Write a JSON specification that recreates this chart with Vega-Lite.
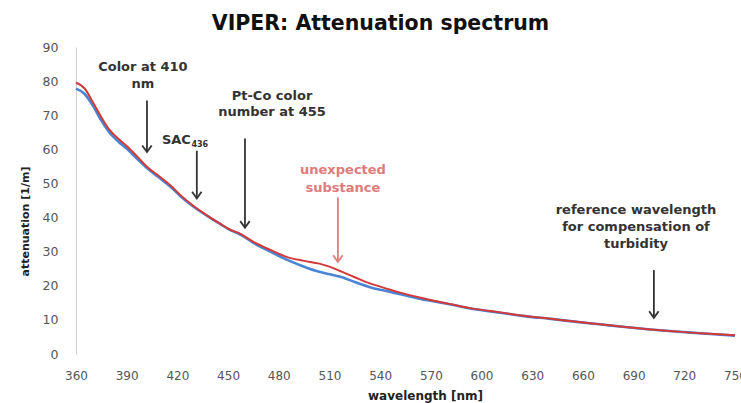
{
  "$schema": "https://vega.github.io/schema/vega-lite/v6.json",
  "width": 659,
  "height": 307,
  "autosize": {"type": "none"},
  "padding": {"left": 76, "top": 47, "right": 6, "bottom": 49},
  "background": "white",
  "config": {
    "view": {"stroke": null},
    "font": "DejaVu Sans",
    "axisX": {"grid": false, "domain": false, "ticks": false, "labelPadding": 16, "labelFontSize": 12, "labelColor": "#555555", "labelFont": "DejaVu Sans", "labelOverlap": false, "titleFontSize": 12, "titleFontWeight": "bold", "titleColor": "#222222", "titleFont": "DejaVu Sans", "titleX": 349, "titleY": 36, "titleBaseline": "top", "labelFlush": false},
    "axisY": {"grid": false, "domain": true, "domainColor": "#cfcfcf", "domainWidth": 1, "ticks": false, "labelPadding": 18, "labelFontSize": 12.5, "labelColor": "#555555", "labelFont": "DejaVu Sans", "labelOverlap": false, "titleFontSize": 11, "titleFontWeight": "bold", "titleColor": "#222222", "titleFont": "DejaVu Sans", "titleX": -46, "titleY": 174, "labelFlush": false}
  },
  "title": {"text": "VIPER: Attenuation spectrum", "fontSize": 20.5, "fontWeight": "bold", "color": "#111111", "font": "DejaVu Sans", "anchor": "middle", "dx": -25, "offset": 7},
  "datasets": {
    "spectra": [
      {"wl": 360, "att": 77.8, "s": "blue"}, {"wl": 365, "att": 76.3, "s": "blue"}, {"wl": 370, "att": 72.8, "s": "blue"}, {"wl": 375, "att": 68.4, "s": "blue"}, {"wl": 380, "att": 64.8, "s": "blue"}, {"wl": 385, "att": 62.3, "s": "blue"}, {"wl": 390, "att": 60.2, "s": "blue"}, {"wl": 396, "att": 57.3, "s": "blue"}, {"wl": 402, "att": 54.5, "s": "blue"}, {"wl": 409, "att": 51.8, "s": "blue"}, {"wl": 416, "att": 49.0, "s": "blue"}, {"wl": 422, "att": 46.2, "s": "blue"}, {"wl": 429, "att": 43.4, "s": "blue"}, {"wl": 437, "att": 40.7, "s": "blue"}, {"wl": 445, "att": 38.2, "s": "blue"}, {"wl": 451, "att": 36.4, "s": "blue"}, {"wl": 457, "att": 35.1, "s": "blue"}, {"wl": 465, "att": 32.6, "s": "blue"}, {"wl": 475, "att": 30.0, "s": "blue"}, {"wl": 485, "att": 27.6, "s": "blue"}, {"wl": 495, "att": 25.6, "s": "blue"}, {"wl": 504, "att": 24.1, "s": "blue"}, {"wl": 510, "att": 23.4, "s": "blue"}, {"wl": 516, "att": 22.7, "s": "blue"}, {"wl": 525, "att": 21.1, "s": "blue"}, {"wl": 534, "att": 19.6, "s": "blue"}, {"wl": 545, "att": 18.3, "s": "blue"}, {"wl": 552, "att": 17.5, "s": "blue"}, {"wl": 564, "att": 16.1, "s": "blue"}, {"wl": 581, "att": 14.6, "s": "blue"}, {"wl": 595, "att": 13.2, "s": "blue"}, {"wl": 611, "att": 12.1, "s": "blue"}, {"wl": 625, "att": 11.1, "s": "blue"}, {"wl": 641, "att": 10.3, "s": "blue"}, {"wl": 655, "att": 9.5, "s": "blue"}, {"wl": 670, "att": 8.7, "s": "blue"}, {"wl": 685, "att": 7.9, "s": "blue"}, {"wl": 700, "att": 7.2, "s": "blue"}, {"wl": 715, "att": 6.6, "s": "blue"}, {"wl": 729, "att": 6.1, "s": "blue"}, {"wl": 740, "att": 5.7, "s": "blue"}, {"wl": 750, "att": 5.4, "s": "blue"},
      {"wl": 360, "att": 79.6, "s": "red"}, {"wl": 365, "att": 77.9, "s": "red"}, {"wl": 370, "att": 73.8, "s": "red"}, {"wl": 375, "att": 69.4, "s": "red"}, {"wl": 380, "att": 65.6, "s": "red"}, {"wl": 385, "att": 63.1, "s": "red"}, {"wl": 390, "att": 61.0, "s": "red"}, {"wl": 396, "att": 58.0, "s": "red"}, {"wl": 402, "att": 54.9, "s": "red"}, {"wl": 409, "att": 52.2, "s": "red"}, {"wl": 416, "att": 49.4, "s": "red"}, {"wl": 422, "att": 46.5, "s": "red"}, {"wl": 429, "att": 43.6, "s": "red"}, {"wl": 437, "att": 40.8, "s": "red"}, {"wl": 445, "att": 38.3, "s": "red"}, {"wl": 451, "att": 36.5, "s": "red"}, {"wl": 457, "att": 35.3, "s": "red"}, {"wl": 465, "att": 32.9, "s": "red"}, {"wl": 475, "att": 30.5, "s": "red"}, {"wl": 485, "att": 28.4, "s": "red"}, {"wl": 495, "att": 27.3, "s": "red"}, {"wl": 504, "att": 26.5, "s": "red"}, {"wl": 510, "att": 25.6, "s": "red"}, {"wl": 516, "att": 24.4, "s": "red"}, {"wl": 525, "att": 22.5, "s": "red"}, {"wl": 534, "att": 20.7, "s": "red"}, {"wl": 545, "att": 19.0, "s": "red"}, {"wl": 552, "att": 18.0, "s": "red"}, {"wl": 564, "att": 16.5, "s": "red"}, {"wl": 581, "att": 14.7, "s": "red"}, {"wl": 595, "att": 13.3, "s": "red"}, {"wl": 611, "att": 12.2, "s": "red"}, {"wl": 625, "att": 11.2, "s": "red"}, {"wl": 641, "att": 10.3, "s": "red"}, {"wl": 655, "att": 9.5, "s": "red"}, {"wl": 670, "att": 8.7, "s": "red"}, {"wl": 685, "att": 7.9, "s": "red"}, {"wl": 700, "att": 7.2, "s": "red"}, {"wl": 715, "att": 6.6, "s": "red"}, {"wl": 729, "att": 6.1, "s": "red"}, {"wl": 740, "att": 5.8, "s": "red"}, {"wl": 750, "att": 5.5, "s": "red"}
    ],
    "arrows": [
      {"wl": 402, "att": 74.3, "tip": 59.2, "kind": "marker"},
      {"wl": 431.5, "att": 59.6, "tip": 45.6, "kind": "marker"},
      {"wl": 460, "att": 63.2, "tip": 37.0, "kind": "marker"},
      {"wl": 515, "att": 45.9, "tip": 27.0, "kind": "unexpected"},
      {"wl": 702, "att": 24.6, "tip": 10.6, "kind": "marker"}
    ],
    "notes": [
      {"wl": 399.6, "att": 84.2, "label": "Color at 410", "kind": "marker"},
      {"wl": 399.6, "att": 79.2, "label": "nm", "kind": "marker"},
      {"wl": 476, "att": 75.7, "label": "Pt-Co color", "kind": "marker"},
      {"wl": 476, "att": 70.8, "label": "number at 455", "kind": "marker"},
      {"wl": 518, "att": 53.8, "label": "unexpected", "kind": "unexpected"},
      {"wl": 518, "att": 48.8, "label": "substance", "kind": "unexpected"},
      {"wl": 691.4, "att": 42.1, "label": "reference wavelength", "kind": "marker"},
      {"wl": 691.4, "att": 37.1, "label": "for  compensation of", "kind": "marker"},
      {"wl": 691.4, "att": 32.2, "label": "turbidity", "kind": "marker"}
    ],
    "sac": [{"wl": 428, "att": 62.6, "label": "SAC"}],
    "sub": [{"wl": 428.3, "att": 61.3, "label": "436"}]
  },
  "encoding": {
    "x": {"field": "wl", "type": "quantitative", "title": "wavelength [nm]", "scale": {"domain": [360, 750], "nice": false, "zero": false},
      "axis": {"values": [360, 390, 420, 450, 480, 510, 540, 570, 600, 630, 660, 690, 720, 750], "labelOverlap": false}},
    "y": {"field": "att", "type": "quantitative", "title": "attenuation [1/m]", "scale": {"domain": [0, 90], "nice": false},
      "axis": {"values": [0, 10, 20, 30, 40, 50, 60, 70, 80, 90], "labelOverlap": false}}
  },
  "layer": [
    {
      "data": {"name": "spectra"},
      "transform": [{"filter": "datum.s === 'blue'"}],
      "mark": {"type": "line", "color": "#4a84d4", "strokeWidth": 2.6, "interpolate": "monotone"}
    },
    {
      "data": {"name": "spectra"},
      "transform": [{"filter": "datum.s === 'red'"}],
      "mark": {"type": "line", "color": "#d23a3a", "strokeWidth": 2.0, "interpolate": "monotone"}
    },
    {
      "data": {"name": "arrows"},
      "mark": {"type": "rule", "strokeWidth": 1.8},
      "encoding": {
        "y2": {"field": "tip"},
        "color": {"field": "kind", "type": "nominal", "scale": {"domain": ["marker", "unexpected"], "range": ["#333333", "#e07b7b"]}, "legend": null}
      }
    },
    {
      "data": {"name": "arrows"},
      "mark": {"type": "point", "shape": "M-1,-1.4L0,0L1,-1.4", "filled": false, "strokeWidth": 1.8, "size": 90, "opacity": 1},
      "encoding": {
        "y": {"field": "tip", "type": "quantitative", "title": "attenuation [1/m]", "axis": {"values": [0, 10, 20, 30, 40, 50, 60, 70, 80, 90], "labelOverlap": false}},
        "color": {"field": "kind", "type": "nominal", "scale": {"domain": ["marker", "unexpected"], "range": ["#333333", "#e07b7b"]}, "legend": null}
      }
    },
    {
      "data": {"name": "notes"},
      "mark": {"type": "text", "fontSize": 13, "fontWeight": "bold", "font": "DejaVu Sans", "align": "center", "baseline": "middle"},
      "encoding": {
        "text": {"field": "label"},
        "color": {"field": "kind", "type": "nominal", "scale": {"domain": ["marker", "unexpected"], "range": ["#333333", "#d23a3a"]}, "legend": null}
      }
    },
    {
      "data": {"name": "sac"},
      "mark": {"type": "text", "fontSize": 13, "fontWeight": "bold", "font": "DejaVu Sans", "align": "right", "baseline": "middle", "color": "#333333"},
      "encoding": {"text": {"field": "label"}}
    },
    {
      "data": {"name": "sub"},
      "mark": {"type": "text", "fontSize": 8, "fontWeight": "bold", "font": "DejaVu Sans", "align": "left", "baseline": "middle", "color": "#333333"},
      "encoding": {"text": {"field": "label"}}
    }
  ]
}
